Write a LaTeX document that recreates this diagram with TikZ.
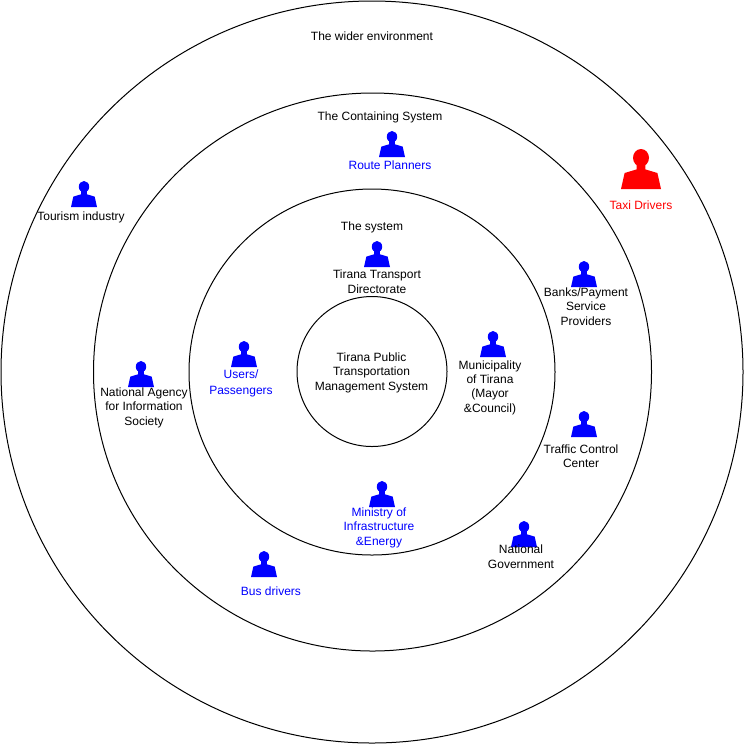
\documentclass[tikz,border=0pt]{standalone}
\usepackage{fontspec}
\setmainfont{Liberation Sans}
\usetikzlibrary{positioning}
\tikzset{
  ring/.style={draw=black,circle,line width=0.75pt,inner sep=0pt,outer sep=0pt},
  persona/.style n args={2}{inner sep=0pt,outer sep=0pt,minimum size=#2,
    path picture={
      \begin{scope}[shift={(path picture bounding box.center)},x=#2,y=-#2]
        \fill[#1] (0,-0.28) ellipse [x radius=0.2,y radius=0.22];
        \fill[#1] (-0.11,-0.2) -- (-0.11,0.01) -- (-0.41,0.1) -- (-0.5,0.5) -- (0.5,0.5) -- (0.41,0.1) -- (0.11,0.01) -- (0.11,-0.2) -- cycle;
      \end{scope}
    }},
  bluepersona/.style={persona={blue}{19.5pt}},
  caption/.style={inner sep=0pt,outer sep=0pt,align=center,font=\fontsize{9}{10.8}\selectfont},
}
\begin{document}
\begin{tikzpicture}[x=0.75pt,y=-0.75pt]
  \useasboundingbox (0,0) rectangle (745,744);
  % rings
  \node [ring,minimum size=556.5pt] (wider) at (372,372) {};
  \node [ring,minimum size=418.5pt] (containing) at (372.5,372) {};
  \node [ring,minimum size=274.5pt] (sys) at (372,372) {};
  \node [ring,minimum size=112.5pt] (core) at (372,371.5) {};
  % ring titles
  \node [caption] (corelabel) at (371.5,372.5) {Tirana Public\\Transportation\\Management System};
  \node [caption] (widerlabel) at (372,36) {The wider environment};
  \node [caption] (containinglabel) at (380,117) {The Containing System};
  \node [caption] (syslabel) at (372,227) {The system};
  % people
  \node [bluepersona] (planners) at (392,144) {};
  \node [bluepersona] (tourism) at (84,194) {};
  \node [bluepersona] (directorate) at (377,254) {};
  \node [bluepersona] (banks) at (584,274) {};
  \node [bluepersona] (users) at (244,354) {};
  \node [bluepersona] (municipality) at (493,344) {};
  \node [bluepersona] (agency) at (141,374) {};
  \node [bluepersona] (traffic) at (584,424) {};
  \node [bluepersona] (ministry) at (382,494) {};
  \node [bluepersona] (government) at (524,534) {};
  \node [bluepersona] (busdrivers) at (264,564) {};
  \node [persona={red}{30pt}] (taxi) at (641,169) {};
  % their names
  \node [caption,text=blue,below=2.5pt of planners,xshift=-1.5pt] (plannerslabel) {Route Planners};
  \node [caption,below=3.5pt of tourism,xshift=-2.25pt] (tourismlabel) {Tourism industry};
  \node [caption,below=1.9pt of directorate] (directoratelabel) {Tirana Transport\\[0.4pt]Directorate};
  \node [caption,below=0.5pt of banks,xshift=1.5pt] (bankslabel) {Banks/Payment\\Service\\Providers};
  \node [caption,text=blue,below=1.9pt of users,xshift=-2.25pt] (userslabel) {Users/\\[1.2pt]Passengers};
  \node [caption,below=2.5pt of municipality,xshift=-2.25pt] (municipalitylabel) {Municipality\\of Tirana\\(Mayor\\\&Council)};
  \node [caption,below=0.5pt of agency,xshift=2.25pt] (agencylabel) {National Agency\\for Information\\Society};
  \node [caption,below=5.5pt of traffic,xshift=-2.25pt] (trafficlabel) {Traffic Control\\Center};
  \node [caption,text=blue,below=0.5pt of ministry,xshift=-2.25pt] (ministrylabel) {Ministry of\\Infrastructure\\\&Energy};
  \node [caption,below=-2pt of government,xshift=-2.25pt] (governmentlabel) {National\\[0.6pt]Government};
  \node [caption,text=blue,below=7pt of busdrivers,xshift=5.25pt] (busdriverslabel) {Bus drivers};
  \node [caption,text=red,below=8.5pt of taxi] (taxilabel) {Taxi Drivers};
\end{tikzpicture}
\end{document}
